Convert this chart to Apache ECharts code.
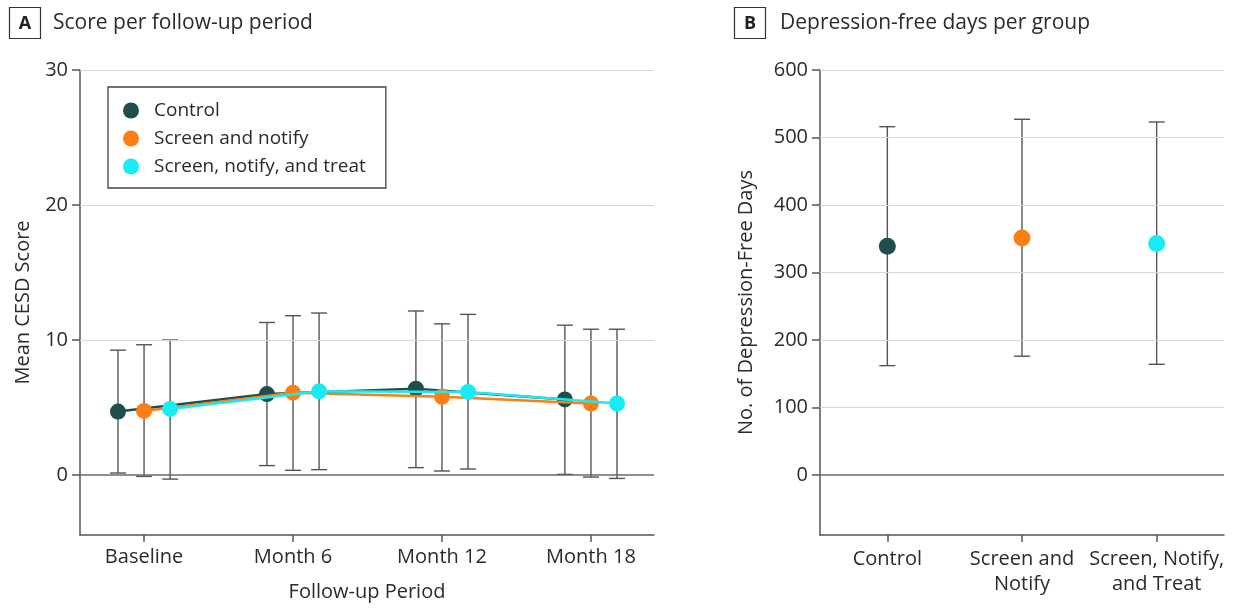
<!DOCTYPE html>
<html>
<head>
<meta charset="utf-8">
<script src="https://cdn.jsdelivr.net/npm/echarts@6/dist/echarts.min.js"></script>
<style>
html,body{margin:0;padding:0;background:#fff;}
#chart{width:1233px;height:609px;}
</style>
</head>
<body>
<div id="chart"></div>
<script>
// ---------- Data ----------
const periods = ['Baseline', 'Month 6', 'Month 12', 'Month 18'];
const periodMonths = [0, 6, 12, 18];
const groupNames = ['Control', 'Screen and notify', 'Screen, notify, and treat'];

const controlMean = [4.7, 6.0, 6.4, 5.6];
const controlLow  = [0.15, 0.7, 0.55, 0.05];
const controlHigh = [9.25, 11.3, 12.15, 11.1];

const notifyMean = [4.75, 6.1, 5.8, 5.3];
const notifyLow  = [-0.1, 0.35, 0.3, -0.15];
const notifyHigh = [9.65, 11.8, 11.2, 10.8];

const treatMean = [4.9, 6.2, 6.15, 5.3];
const treatLow  = [-0.3, 0.4, 0.45, -0.25];
const treatHigh = [10.0, 12.0, 11.9, 10.8];

const scoreTicks = [0, 10, 20, 30];

const groupCategories = ['Control', 'Screen and\nNotify', 'Screen, Notify,\nand Treat'];
const daysMean = [339, 351, 343];
const daysLow  = [162, 176, 164];
const daysHigh = [516, 527, 523];
const daysTicks = [0, 100, 200, 300, 400, 500, 600];

// ---------- Styling ----------
const colors = ['#1f4e4c', '#fb7f14', '#18ecf2'];
const FONT = '"Open Sans", "Noto Sans", sans-serif';
const TXT = '#2b2b2b';
const AXIS = '#555';
const GRIDC = '#d6d6d6';
const dodge = [-1.05, 0, 1.05];

const meansA = [controlMean, notifyMean, treatMean];
const lowsA = [controlLow, notifyLow, treatLow];
const highsA = [controlHigh, notifyHigh, treatHigh];

function errorBarRender(params, api) {
  const x = api.value(0);
  const lo = api.coord([x, api.value(1)]);
  const hi = api.coord([x, api.value(2)]);
  const hw = 8;
  const st = { stroke: '#555', lineWidth: 1.4 };
  return {
    type: 'group',
    children: [
      { type: 'line', shape: { x1: lo[0], y1: lo[1], x2: hi[0], y2: hi[1] }, style: st },
      { type: 'line', shape: { x1: lo[0] - hw, y1: lo[1], x2: lo[0] + hw, y2: lo[1] }, style: st },
      { type: 'line', shape: { x1: hi[0] - hw, y1: hi[1], x2: hi[0] + hw, y2: hi[1] }, style: st }
    ]
  };
}

function gridMarkLines(ticks) {
  return {
    silent: true,
    symbol: 'none',
    label: { show: false },
    data: ticks.map(v => ({
      yAxis: v,
      lineStyle: v === 0 ? { color: '#6a6a6a', width: 1.5, type: 'solid' } : { color: GRIDC, width: 1.2, type: 'solid' }
    }))
  };
}

const series = [];
series.push({ type: 'line', xAxisIndex: 0, yAxisIndex: 0, data: [], z: 0, markLine: gridMarkLines(scoreTicks) });
series.push({ type: 'line', xAxisIndex: 1, yAxisIndex: 1, data: [], z: 0, markLine: gridMarkLines(daysTicks) });

for (let g = 0; g < 3; g++) {
  series.push({
    type: 'custom',
    xAxisIndex: 0, yAxisIndex: 0,
    z: 2,
    silent: true,
    renderItem: errorBarRender,
    encode: { x: 0, y: [1, 2] },
    data: periodMonths.map((m, i) => [m + dodge[g], lowsA[g][i], highsA[g][i]])
  });
}
for (let g = 0; g < 3; g++) {
  series.push({
    name: groupNames[g],
    type: 'line',
    xAxisIndex: 0, yAxisIndex: 0,
    z: 3 + g,
    symbol: 'circle',
    symbolSize: 16,
    itemStyle: { color: colors[g], opacity: 1 },
    lineStyle: { color: colors[g], width: 2.5 },
    data: periodMonths.map((m, i) => [m + dodge[g], meansA[g][i]])
  });
}
series.push({
  type: 'custom',
  xAxisIndex: 1, yAxisIndex: 1,
  z: 2,
  silent: true,
  renderItem: errorBarRender,
  encode: { x: 0, y: [1, 2] },
  data: groupCategories.map((c, i) => [i, daysLow[i], daysHigh[i]])
});
series.push({
  type: 'scatter',
  xAxisIndex: 1, yAxisIndex: 1,
  z: 3,
  symbol: 'circle',
  symbolSize: 17,
  data: groupCategories.map((c, i) => ({ value: [i, daysMean[i]], itemStyle: { color: colors[i], opacity: 1 } }))
});

const option = {
  backgroundColor: '#fff',
  animation: false,
  textStyle: { fontFamily: FONT, color: TXT },
  graphic: [
    { type: 'rect', shape: { x: 9.5, y: 7.5, width: 31, height: 31 }, style: { fill: '#fff', stroke: '#333', lineWidth: 1.2 } },
    { type: 'text', x: 25, y: 23.5, style: { text: 'A', font: 'bold 18px ' + FONT, fill: '#222', align: 'center', verticalAlign: 'middle' } },
    { type: 'text', x: 53, y: 23.5, style: { text: 'Score per follow-up period', font: '21px ' + FONT, fill: TXT, verticalAlign: 'middle' } },
    { type: 'rect', shape: { x: 734.5, y: 7.5, width: 31, height: 31 }, style: { fill: '#fff', stroke: '#333', lineWidth: 1.2 } },
    { type: 'text', x: 750, y: 23.5, style: { text: 'B', font: 'bold 18px ' + FONT, fill: '#222', align: 'center', verticalAlign: 'middle' } },
    { type: 'text', x: 780, y: 23.5, style: { text: 'Depression-free days per group', font: '21px ' + FONT, fill: TXT, verticalAlign: 'middle' } }
  ],
  legend: {
    data: groupNames,
    orient: 'vertical',
    left: 108, top: 87,
    padding: [14, 20, 12, 15],
    itemWidth: 16, itemHeight: 16, itemGap: 9,
    icon: 'circle',
    borderColor: '#444', borderWidth: 1.3,
    backgroundColor: '#fff',
    selectedMode: false,
    textStyle: { fontFamily: FONT, fontSize: 19, color: TXT, padding: [0, 0, 0, 10] }
  },
  grid: [
    { left: 80, right: 1233 - 654, top: 70, bottom: 609 - 535, containLabel: false },
    { left: 820, right: 1233 - 1224, top: 70, bottom: 609 - 535, containLabel: false }
  ],
  xAxis: [
    {
      type: 'value', gridIndex: 0,
      min: -2.58, max: 20.54,
      axisLine: { onZero: false, lineStyle: { color: AXIS, width: 1.5 } },
      axisTick: { show: true, length: 7, customValues: periodMonths, lineStyle: { color: AXIS, width: 1.5 } },
      axisLabel: {
        customValues: periodMonths,
        formatter: v => periods[periodMonths.indexOf(Math.round(v))] || '',
        fontSize: 20, color: TXT, margin: 12, fontFamily: FONT
      },
      splitLine: { show: false },
      name: 'Follow-up Period', nameLocation: 'middle', nameGap: 47,
      nameTextStyle: { fontSize: 20, color: TXT, fontFamily: FONT }
    },
    {
      type: 'category', gridIndex: 1,
      data: groupCategories,
      boundaryGap: true,
      axisLine: { onZero: false, lineStyle: { color: AXIS, width: 1.5 } },
      axisTick: { show: true, length: 7, alignWithLabel: true, lineStyle: { color: AXIS, width: 1.5 } },
      axisLabel: { fontSize: 20, color: TXT, margin: 12, lineHeight: 25, fontFamily: FONT, interval: 0 },
      splitLine: { show: false }
    }
  ],
  yAxis: [
    {
      type: 'value', gridIndex: 0,
      min: -4.44, max: 30,
      axisLine: { show: true, onZero: false, lineStyle: { color: AXIS, width: 1.5 } },
      axisTick: { show: true, length: 8, customValues: scoreTicks, lineStyle: { color: AXIS, width: 1.5 } },
      axisLabel: { customValues: scoreTicks, fontSize: 20, color: TXT, margin: 12, fontFamily: FONT },
      splitLine: { show: false },
      name: 'Mean CESD Score', nameLocation: 'middle', nameGap: 47,
      nameTextStyle: { fontSize: 20, color: TXT, fontFamily: FONT }
    },
    {
      type: 'value', gridIndex: 1,
      min: -88.9, max: 600,
      axisLine: { show: true, onZero: false, lineStyle: { color: AXIS, width: 1.5 } },
      axisTick: { show: true, length: 8, customValues: daysTicks, lineStyle: { color: AXIS, width: 1.5 } },
      axisLabel: { customValues: daysTicks, fontSize: 20, color: TXT, margin: 12, fontFamily: FONT },
      splitLine: { show: false },
      name: 'No. of Depression-Free Days', nameLocation: 'middle', nameGap: 64,
      nameTextStyle: { fontSize: 20, color: TXT, fontFamily: FONT }
    }
  ],
  series: series
};

const chart = echarts.init(document.getElementById('chart'), null, { renderer: 'canvas' });
chart.setOption(option);
</script>
</body>
</html>
